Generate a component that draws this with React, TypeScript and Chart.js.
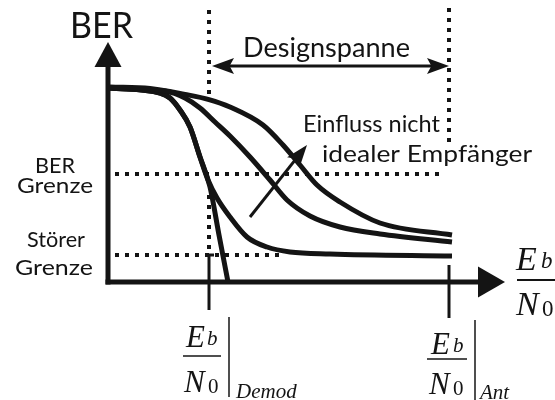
import React, { useEffect, useRef } from "react";
import { Chart, registerables } from "chart.js";

Chart.register(...registerables);

// Schematic units: x = Eb/N0, y = BER (log-like, 0 = axis)
const X_RANGE = [-5.4, 22.35];
const Y_RANGE = [-5.9, 14.1];

// Curve A: ideal demodulator (waterfall down to the axis)
const curveAx = [0.1, 2.6, 3.1, 3.6, 4.1, 4.6, 5.1, 5.55, 6.0];
const curveAy = [9.7, 9.45, 9.2, 8.6, 7.75, 6.25, 4.75, 2.35, 0.0];
// Curve B: with interferer floor
const curveBx = [0.1, 2.6, 3.1, 3.6, 4.1, 4.6, 5.0, 5.45, 6.1, 6.95, 7.95, 9.1, 11.1, 17.2];
const curveBy = [9.7, 9.45, 9.2, 8.6, 7.75, 6.25, 5.1, 4.2, 3.25, 2.25, 1.75, 1.5, 1.4, 1.3];
// Curve C: non-ideal receiver
const curveCx = [0.1, 2.85, 3.85, 4.6, 5.35, 6.1, 7.1, 8.1, 8.95, 10.1, 11.6, 13.6, 17.2];
const curveCy = [9.7, 9.55, 9.2, 8.7, 8.0, 7.3, 6.25, 5.1, 4.1, 3.3, 2.75, 2.4, 2.0];
// Curve D: strongly non-ideal receiver
const curveDx = [0.1, 2.1, 3.85, 5.05, 6.1, 7.75, 8.75, 9.6, 10.45, 11.6, 13.6, 17.2];
const curveDy = [9.75, 9.68, 9.38, 9.12, 8.75, 7.85, 6.85, 5.85, 4.85, 4.0, 2.95, 2.35];

// Reference levels / positions
const demodX = 5.05;
const antX = 17.05;
const berLimit = 5.4;
const stoererLimit = 1.35;
const berLimitSpan = [0.35, 16.75];
const stoererSpan = [0.35, 8.6];
const demodGuideTop = [13.6, 9.25];
const demodGuideBottom = [4.35, 1.35];
const antGuide = [13.7, 6.75];
const demodTick = [1.35, -1.4];
const antTick = [0.85, -1.8];
const yAxisTop = 12.0;
const xAxisEnd = 19.85;
const designY = 10.8;
const influenceArrow = [
  [7.1, 3.25],
  [9.95, 6.85],
];

const INK = "#141414";

const pts = (xs: number[], ys: number[]) => xs.map((x, i) => ({ x, y: ys[i] }));

function curve(xs: number[], ys: number[]) {
  return {
    data: pts(xs, ys),
    showLine: true,
    borderColor: INK,
    borderWidth: 5,
    pointRadius: 0,
    cubicInterpolationMode: "monotone" as const,
    borderCapStyle: "butt" as const,
    order: 1,
  };
}

function dotted(data: { x: number; y: number }[]) {
  return {
    data,
    showLine: true,
    borderColor: INK,
    borderWidth: 4,
    borderDash: [4, 6],
    borderCapStyle: "butt" as const,
    pointRadius: 0,
    order: 2,
  };
}

function fitText(ctx: CanvasRenderingContext2D, t: string, x: number, base: number, width: number, font: string) {
  ctx.save();
  ctx.font = font;
  const w = ctx.measureText(t).width;
  ctx.translate(x, base);
  ctx.scale(width / w, 1);
  ctx.fillText(t, 0, 0);
  ctx.restore();
}

function arrowHead(ctx: CanvasRenderingContext2D, tx: number, ty: number, angle: number, len: number, half: number) {
  ctx.save();
  ctx.translate(tx, ty);
  ctx.rotate(angle);
  ctx.beginPath();
  ctx.moveTo(0, 0);
  ctx.lineTo(-len, -half);
  ctx.lineTo(-len * 0.8, 0);
  ctx.lineTo(-len, half);
  ctx.closePath();
  ctx.fill();
  ctx.restore();
}

function solidHead(ctx: CanvasRenderingContext2D, tx: number, ty: number, angle: number, len: number, half: number) {
  ctx.save();
  ctx.translate(tx, ty);
  ctx.rotate(angle);
  ctx.beginPath();
  ctx.moveTo(0, 0);
  ctx.lineTo(-len, -half);
  ctx.lineTo(-len, half);
  ctx.closePath();
  ctx.fill();
  ctx.restore();
}

const SANS = "Lato, 'DejaVu Sans', sans-serif";
const SERIF = "'Liberation Serif', 'DejaVu Serif', serif";

function line(ctx: CanvasRenderingContext2D, x1: number, y1: number, x2: number, y2: number, w: number) {
  ctx.lineWidth = w;
  ctx.beginPath();
  ctx.moveTo(x1, y1);
  ctx.lineTo(x2, y2);
  ctx.stroke();
}

function fraction(
  ctx: CanvasRenderingContext2D,
  o: { ex: number; eb: number; bx: number; bb: number; lx1: number; lx2: number; ly: number; nx: number; nb: number; zx: number; zb: number; big: number; small: number; lw: number }
) {
  ctx.font = `italic ${o.big}px ${SERIF}`;
  ctx.fillText("E", o.ex, o.eb);
  ctx.fillText("N", o.nx, o.nb);
  ctx.font = `italic ${o.small}px ${SERIF}`;
  ctx.fillText("b", o.bx, o.bb);
  ctx.font = `${o.small}px ${SERIF}`;
  ctx.fillText("0", o.zx, o.zb);
  line(ctx, o.lx1, o.ly, o.lx2, o.ly, o.lw);
}

const decorations = {
  id: "decorations",
  afterDatasetsDraw(chart: any) {
    const ctx: CanvasRenderingContext2D = chart.ctx;
    const sx = chart.scales.x;
    const sy = chart.scales.y;
    const X = (v: number) => sx.getPixelForValue(v);
    const Y = (v: number) => sy.getPixelForValue(v);
    ctx.save();
    ctx.fillStyle = INK;
    ctx.strokeStyle = INK;
    ctx.lineCap = "butt";

    // axes
    const ox = X(0);
    const oy = Y(0);
    line(ctx, ox, oy + 2.5, ox, Y(yAxisTop) + 22, 5);
    solidHead(ctx, ox, Y(yAxisTop), -Math.PI / 2, 25, 13.5);
    line(ctx, ox - 2.5, oy, X(xAxisEnd) - 24, oy, 5);
    solidHead(ctx, X(xAxisEnd), oy, 0, 27, 15.5);

    // solid ticks
    line(ctx, X(demodX), Y(demodTick[0]), X(demodX), Y(demodTick[1]), 3);
    line(ctx, X(demodX), Y(demodTick[0]), X(demodX) + 5, Y(demodTick[0]), 3);
    line(ctx, X(antX), Y(antTick[0]), X(antX), Y(antTick[1]), 3);

    // Designspanne arrow
    const dy = Y(designY);
    line(ctx, X(demodX) + 12, dy, X(antX) - 12, dy, 3);
    arrowHead(ctx, X(demodX) + 3, dy, Math.PI, 22, 8);
    arrowHead(ctx, X(antX), dy, 0, 22, 8);

    // influence arrow
    const ax1 = X(influenceArrow[0][0]);
    const ay1 = Y(influenceArrow[0][1]);
    const ax2 = X(influenceArrow[1][0]);
    const ay2 = Y(influenceArrow[1][1]);
    const ang = Math.atan2(ay2 - ay1, ax2 - ax1);
    line(ctx, ax1, ay1, ax2 - Math.cos(ang) * 12, ay2 - Math.sin(ang) * 12, 3);
    arrowHead(ctx, ax2, ay2, ang, 22, 8);

    // texts
    ctx.textBaseline = "alphabetic";
    fitText(ctx, "BER", 70, 38, 63, `36px ${SANS}`);
    fitText(ctx, "Designspanne", 243, 57, 167, `26px ${SANS}`);
    fitText(ctx, "Einfluss nicht", 303, 132, 137, `24px ${SANS}`);
    fitText(ctx, "idealer Empfänger", 322, 162, 210, `24px ${SANS}`);
    fitText(ctx, "BER", 35, 173, 40, `22px ${SANS}`);
    fitText(ctx, "Grenze", 17, 193, 76, `22px ${SANS}`);
    fitText(ctx, "Störer", 27, 247, 58, `22px ${SANS}`);
    fitText(ctx, "Grenze", 15, 275, 78, `22px ${SANS}`);

    // math labels
    fraction(ctx, { ex: 186, eb: 347, bx: 207, bb: 345, lx1: 183, lx2: 221, ly: 356, nx: 184, nb: 392, zx: 208, zb: 393, big: 31, small: 21, lw: 1.5 });
    line(ctx, 229, 317, 229, 397, 1.5);
    ctx.font = `italic 21px ${SERIF}`;
    ctx.fillText("Demod", 236, 398);

    fraction(ctx, { ex: 431, eb: 354, bx: 453, bb: 352, lx1: 427, lx2: 467, ly: 359, nx: 429, nb: 394, zx: 453, zb: 395, big: 31, small: 21, lw: 1.5 });
    line(ctx, 475, 320, 475, 400, 1.5);
    ctx.font = `italic 21px ${SERIF}`;
    ctx.fillText("Ant", 480, 399);

    fraction(ctx, { ex: 516, eb: 270, bx: 541, bb: 268, lx1: 517, lx2: 560, ly: 280, nx: 516, nb: 315, zx: 542, zb: 316, big: 34, small: 23, lw: 2 });

    ctx.restore();
  },
};

export default function App() {
  const ref = useRef<HTMLCanvasElement>(null);
  useEffect(() => {
    if (!ref.current) return;
    const chart = new Chart(ref.current, {
      type: "scatter",
      data: {
        datasets: [
          curve(curveDx, curveDy),
          curve(curveCx, curveCy),
          curve(curveBx, curveBy),
          curve(curveAx, curveAy),
          dotted([
            { x: berLimitSpan[0], y: berLimit },
            { x: berLimitSpan[1], y: berLimit },
          ]),
          dotted([
            { x: stoererSpan[0], y: stoererLimit },
            { x: stoererSpan[1], y: stoererLimit },
          ]),
          dotted([
            { x: demodX, y: demodGuideTop[0] },
            { x: demodX, y: demodGuideTop[1] },
          ]),
          dotted([
            { x: demodX, y: demodGuideBottom[0] },
            { x: demodX, y: demodGuideBottom[1] },
          ]),
          dotted([
            { x: antX, y: antGuide[0] },
            { x: antX, y: antGuide[1] },
          ]),
        ] as any,
      },
      options: {
        responsive: false,
        animation: false,
        events: [],
        layout: { padding: 0 },
        plugins: { legend: { display: false }, tooltip: { enabled: false }, title: { display: false } },
        scales: {
          x: { type: "linear", min: X_RANGE[0], max: X_RANGE[1], display: false },
          y: { type: "linear", min: Y_RANGE[0], max: Y_RANGE[1], display: false },
        },
      },
      plugins: [decorations],
    });
    return () => chart.destroy();
  }, []);
  return (
    <div style={{ position: "fixed", left: 0, top: 0, width: 555, height: 400, background: "#fff" }}>
      <canvas ref={ref} width={555} height={400} style={{ display: "block" }} />
    </div>
  );
}
